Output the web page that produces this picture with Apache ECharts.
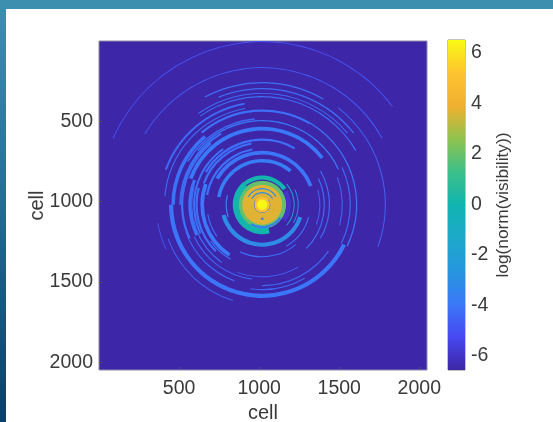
<!DOCTYPE html>
<html><head><meta charset="utf-8">
<script src="https://cdn.jsdelivr.net/npm/echarts@6/dist/echarts.min.js"></script>
<style>
html,body{margin:0;padding:0;width:553px;height:422px;overflow:hidden;background:linear-gradient(180deg,#3d8fb0 0%,#2a7396 40%,#0c3f66 100%)}
#panel{position:absolute;left:6px;top:9px;right:0;bottom:0;background:#fff}
#chart{position:absolute;left:0;top:0;width:553px;height:422px;filter:blur(0.6px)}
</style></head><body>
<div id="panel"></div><div id="chart"></div>
<script>
// Each arc: [radius (cells), width (cells), start deg, end deg, log value]
const ringCenter = [1019, 1019];
const faintArcs = [
 [1019,6,37,156,-5.0],[856,6,29,149,-4.8],[769,6,-20,52,-4.5],[762,8,60,118,-4.2],
 [725,8,38,112,-4.2],[695,6,40,125,-4.3],[675,7,30,125,-4.2],[662,6,190,205,-5.0],[625,6,200,253,-4.5],
 [590,8,-26,70,-4.1],[610,7,100,175,-4.3],[550,7,-26,25,-4.2],[525,8,25,140,-3.9],[506,7,200,250,-4.4],
 [469,7,205,262,-4.4],[394,7,215,240,-4.2],[325,7,245,310,-4.2],[500,6,-15,20,-4.2],
 [420,7,-30,30,-4.2],[388,7,-45,25,-4.1],[440,7,165,235,-4.2],[530,7,262,300,-4.4],
 [505,7,270,325,-4.3],[345,7,190,215,-4.2],[300,7,300,345,-4.1],[360,6,-20,15,-4.4],[450,6,250,300,-4.6]
];
const bandArcs = [
 [569,26,180,334,-4.0],[556,22,130,180,-4.1],[640,12,100,160,-4.3],[588,14,60,130,-4.2],[475,23,38,160,-3.9],
 [512,12,120,180,-4.2],[537,10,95,150,-4.3],[425,12,125,205,-4.1],[388,14,100,160,-4.2],
 [450,20,160,205,-4.1],[375,23,160,237,-3.9],[325,23,21,150,-4.0],[406,14,60,150,-4.2],
 [500,14,130,205,-4.2],[410,14,165,225,-4.2],[350,14,100,170,-4.2],
 [250,26,195,342,-3.1],[275,22,50,170,-3.7],[225,8,165,200,-3.6],[200,6,-40,40,-1.5],[225,6,-30,25,-3.2]
];
const coreArcs = [
 [75,150,0,360,1.9],[165,38,130,285,0.1],[170,26,35,130,0.1],[140,14,240,325,-3.5],[165,30,-35,30,-6.0],
 [62,125,0,360,3.7],[100,7,30,150,-3.0],[75,7,30,150,-3.0],[88,12,265,275,-4.0],
 [47,9,150,400,-4.0],[24,48,0,360,5.0],[16,32,0,360,6.4]
];
const allArcs = [...faintArcs, ...bandArcs, ...coreArcs];
const xTicks = [500,1000,1500,2000];
const yTicks = [500,1000,1500,2000];
const cbTicks = [-6,-4,-2,0,2,4,6];
const cellRange = [0,2048];
const cbRange = [-6.55,6.51];
const parula = ['#3e26a8','#4749f1','#3b78f8','#2696de','#1ca9c9','#10b4b0','#3cc08a','#8fc34e','#f0b030','#fec330','#f9fb14'];
const colorOf = v => echarts.color.lerp((v-cbRange[0])/(cbRange[1]-cbRange[0]), parula);
const plain = v => String(v);
const axisFont = {fontFamily:'Liberation Sans',fontSize:19.5,color:'#3a3a3a'};
const tickLine = {show:true,inside:true,length:3,lineStyle:{color:'#555',width:1}};
const chart = echarts.init(document.getElementById('chart'),null,{renderer:'canvas'});
chart.setOption({
 animation:false,
 backgroundColor:'transparent',
 grid:[
  {left:99,top:41,width:328,height:329,outerBoundsMode:'none',show:true,backgroundColor:'#3e26a8',borderColor:'#8f8ca6',borderWidth:1},
  {left:448,top:40,width:17,height:330,outerBoundsMode:'none',show:true,borderColor:'#8a8a80',borderWidth:1}
 ],
 xAxis:[
  {type:'value',gridIndex:0,position:'bottom',min:cellRange[0],max:cellRange[1],splitLine:{show:false},axisLine:{show:false,onZero:false},
   axisTick:{...tickLine,customValues:xTicks},axisLabel:{...axisFont,margin:9,formatter:plain,customValues:xTicks,showMinLabel:true,showMaxLabel:true},
   name:'cell',nameLocation:'middle',nameGap:32,nameTextStyle:{...axisFont,fontSize:20}},
  {type:'value',gridIndex:1,min:0,max:1,show:false}
 ],
 yAxis:[
  {type:'value',gridIndex:0,inverse:true,min:cellRange[0],max:cellRange[1],splitLine:{show:false},axisLine:{show:false,onZero:false},
   axisTick:{...tickLine,customValues:yTicks},axisLabel:{...axisFont,margin:6,formatter:plain,customValues:yTicks},
   name:'cell',nameLocation:'middle',nameGap:52,nameMoveOverlap:false,nameTextStyle:{...axisFont,fontSize:20}},
  {type:'value',gridIndex:1,position:'right',min:cbRange[0],max:cbRange[1],splitLine:{show:false},axisLine:{show:false,onZero:false},
   axisTick:{...tickLine,customValues:cbTicks},axisLabel:{...axisFont,margin:6,align:'left',formatter:plain,customValues:cbTicks},
   name:'log(norm(visibility))',nameLocation:'middle',nameGap:30,nameRotate:90,nameTextStyle:{...axisFont,fontSize:17.3}}
 ],
 series:[
  {type:'custom',xAxisIndex:0,yAxisIndex:0,clip:true,silent:true,
   data:allArcs,
   encode:{x:[],y:[]},
   renderItem:(params,api)=>{
     const c=api.coord(ringCenter);
     const k=api.size([1,1])[0];
     const r=api.value(0)*k, w=api.value(1)*k;
     return {type:'sector',shape:{cx:c[0],cy:c[1],r0:Math.max(0,r-w/2),r:r+w/2,
       startAngle:-api.value(3)*Math.PI/180,endAngle:-api.value(2)*Math.PI/180,clockwise:true},
       style:{fill:colorOf(api.value(4))}};
   }},
  {type:'custom',xAxisIndex:1,yAxisIndex:1,silent:true,z:1,
   data:[[0,cbRange[0],1,cbRange[1]]],
   renderItem:(params,api)=>{
     const a=api.coord([api.value(0),api.value(3)]), b=api.coord([api.value(2),api.value(1)]);
     return {type:'rect',shape:{x:a[0],y:a[1],width:b[0]-a[0],height:b[1]-a[1]},
       style:{fill:new echarts.graphic.LinearGradient(0,1,0,0,parula.map((color,i)=>({offset:i/(parula.length-1),color})))}};
   }}
 ]
});
</script></body></html>
